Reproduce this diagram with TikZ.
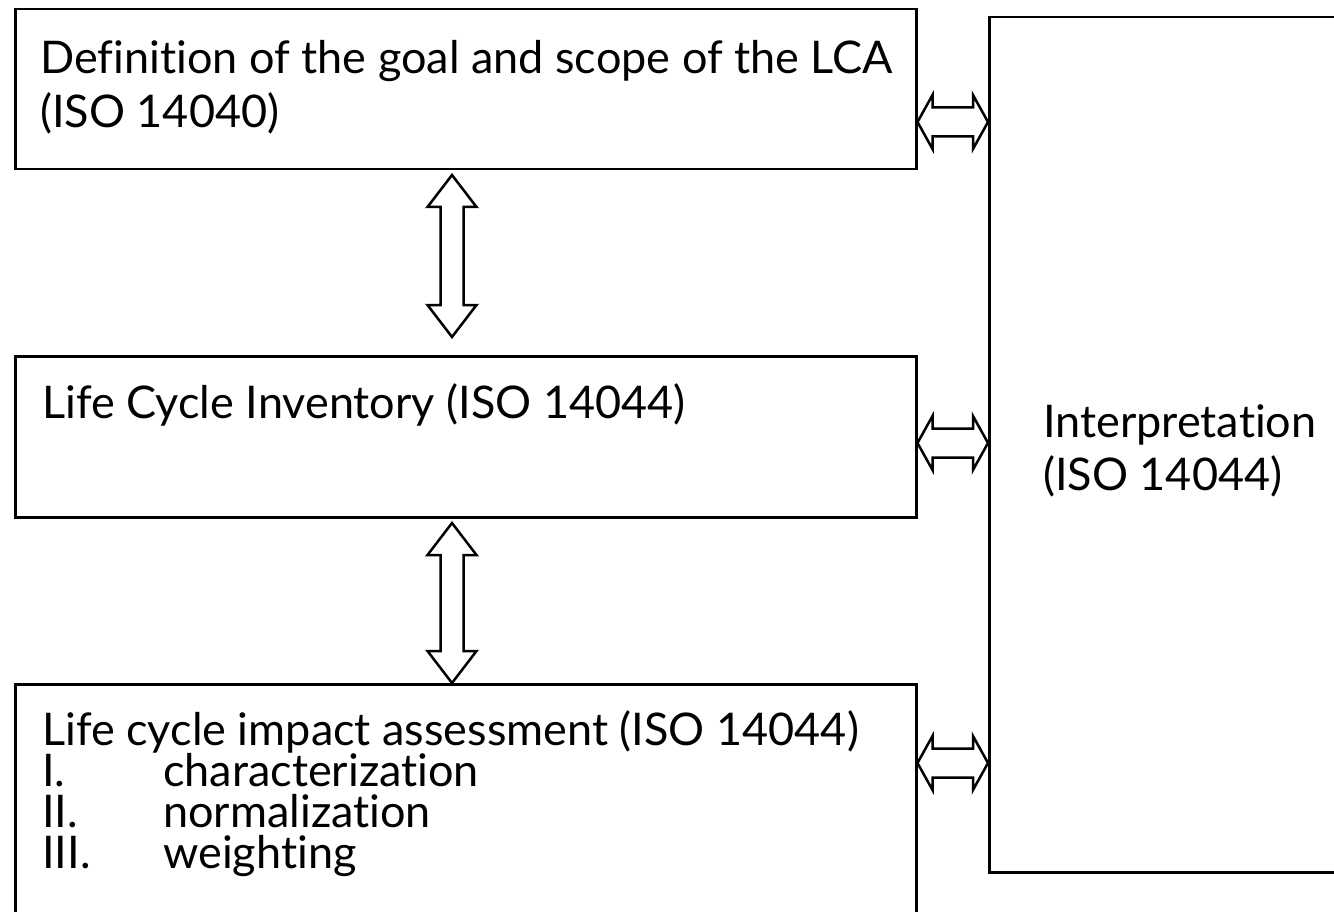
\documentclass[tikz,border=0pt]{standalone}
\usepackage{fontspec}
\setmainfont{Lato}[Ligatures={NoCommon}]
\usetikzlibrary{calc}
\tikzset{
  box/.style={draw, line width=2.5pt, rectangle, anchor=north west, inner sep=0pt},
  txt/.style={anchor=base west, inner sep=0pt, font=\fontsize{45}{50}\selectfont},
  arrowline/.style={draw, line width=2.5pt, line join=miter, fill=white},
}
\newcommand{\harrowbetween}[2]{%
  \path[arrowline] let \p1=(#1), \p2=(#2) in
  (\x1,\y1) -- ({\x1+15pt},{\y1+27pt}) -- ({\x1+15pt},{\y1+14.5pt}) -- ({\x2-15pt},{\y1+14.5pt})
  -- ({\x2-15pt},{\y1+27pt}) -- (\x2,\y2) -- ({\x2-15pt},{\y1-27pt}) -- ({\x2-15pt},{\y1-14.5pt})
  -- ({\x1+15pt},{\y1-14.5pt}) -- ({\x1+15pt},{\y1-27pt}) -- cycle;}
\newcommand{\varrowbetween}[2]{%
  \path[arrowline] let \p1=(#1), \p2=(#2) in
  (\x1,\y1) -- ({\x1+24.5pt},{\y1-32pt}) -- ({\x1+11.5pt},{\y1-32pt}) -- ({\x1+11.5pt},{\y2+32pt})
  -- ({\x1+24.5pt},{\y2+32pt}) -- (\x2,\y2) -- ({\x1-24.5pt},{\y2+32pt}) -- ({\x1-11.5pt},{\y2+32pt})
  -- ({\x1-11.5pt},{\y1-32pt}) -- ({\x1-24.5pt},{\y1-32pt}) -- cycle;}
\begin{document}
\begin{tikzpicture}[x=1pt,y=-1pt]
\useasboundingbox (0,0) rectangle (1334,912);
% boxes
\node[box, minimum width=901pt, minimum height=160pt] (goal) at (14,8) {};
\node[box, minimum width=901pt, minimum height=161pt] (lci) at (14,355) {};
\node[box, minimum width=901pt, minimum height=260pt] (lcia) at (14,683) {};
\node[box, minimum width=370pt, minimum height=855pt] (interp) at (988,16) {};
% texts
\node[txt] (t1) at (40,74) {Definition of the goal and scope of the LCA};
\node[txt] (t2) at (40,128) {(ISO 14040)};
\node[txt] (t3) at (42,418) {Life Cycle Inventory (ISO 14044)};
\node[txt] (t4) at (42,745) {Life cycle impact assessment (ISO 14044)};
\node[txt] (n1) at (42,786) {I.};
\node[txt] (i1) at (163,786) {characterization};
\node[txt] (n2) at (42,827) {II.};
\node[txt] (i2) at (163,827) {normalization};
\node[txt] (n3) at (42,868) {III.};
\node[txt] (i3) at (163,868) {weighting};
\node[txt] (t5) at (1043,437) {Interpretation};
\node[txt] (t6) at (1043,490) {(ISO 14044)};
% horizontal double arrows
\coordinate (h1a) at (goal.east |- 0,122);
\coordinate (h1b) at (interp.west |- 0,122);
\coordinate (h2a) at (lci.east |- 0,443);
\coordinate (h2b) at (interp.west |- 0,443);
\coordinate (h3a) at (lcia.east |- 0,763);
\coordinate (h3b) at (interp.west |- 0,763);
\harrowbetween{h1a}{h1b}
\harrowbetween{h2a}{h2b}
\harrowbetween{h3a}{h3b}
% vertical double arrows
\coordinate (v1a) at (452,175);
\coordinate (v1b) at (452,337);
\coordinate (v2a) at (452,523);
\coordinate (v2b) at (lcia.north -| 452,0);
\varrowbetween{v1a}{v1b}
\varrowbetween{v2a}{v2b}
\end{tikzpicture}
\end{document}
